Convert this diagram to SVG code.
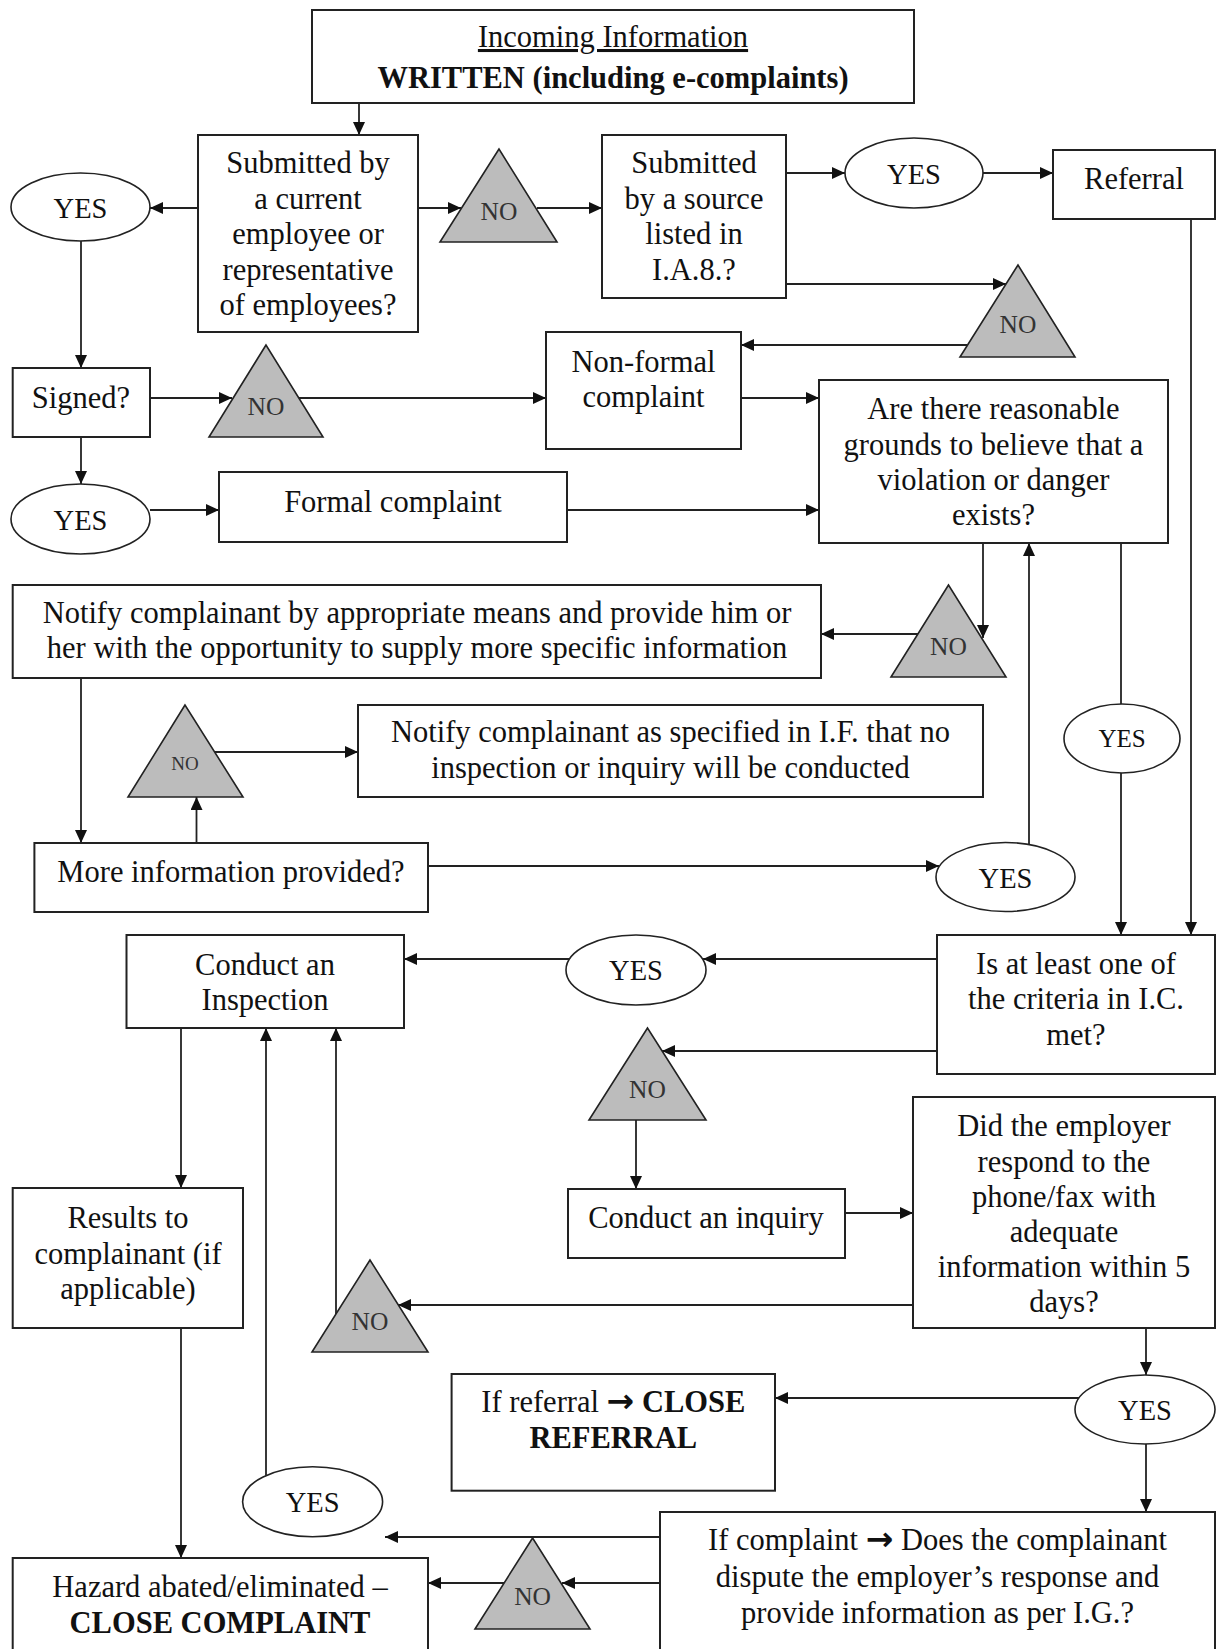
<svg xmlns="http://www.w3.org/2000/svg" width="1221" height="1649" viewBox="0 0 1221 1649">
<defs>
<marker id="ah" viewBox="0 0 13 12" refX="13" refY="6" markerWidth="13" markerHeight="12" markerUnits="userSpaceOnUse" orient="auto"><path d="M0,0 L13,6 L0,12 z" fill="#111"/></marker>
<style>
.box{fill:#fff;stroke:#222;stroke-width:2}
.ell{fill:#fff;stroke:#222;stroke-width:1.6}
.tri{fill:#bcbcbc;stroke:#222;stroke-width:1.6}
text{font-family:"Liberation Serif","Times New Roman",serif;fill:#111;text-anchor:middle;font-size:30.5px}
.yes{font-size:28.5px}
.no{font-size:25.5px;fill:#333}
.b{font-weight:bold}
.arr{font-family:"DejaVu Sans",sans-serif;font-weight:bold;font-size:33px}
#conn line,#conn path{stroke:#222;stroke-width:1.8;fill:none}
.a{marker-end:url(#ah)}
</style>
</defs>
<rect width="1221" height="1649" fill="#fff"/>

<g id="conn">
<line class="a" x1="359" y1="103" x2="359" y2="135"/>
<line class="a" x1="198" y1="208" x2="150" y2="208"/>
<line class="a" x1="418" y1="208" x2="461" y2="208"/>
<line class="a" x1="537" y1="208" x2="602" y2="208"/>
<line class="a" x1="786" y1="173" x2="845" y2="173"/>
<line class="a" x1="983" y1="173" x2="1053" y2="173"/>
<line class="a" x1="786" y1="284" x2="1006" y2="284"/>
<line class="a" x1="967" y1="345" x2="741" y2="345"/>
<line class="a" x1="1191" y1="219" x2="1191" y2="935"/>
<line class="a" x1="81" y1="241" x2="81" y2="368"/>
<line class="a" x1="150" y1="398" x2="232" y2="398"/>
<line class="a" x1="298" y1="398" x2="546" y2="398"/>
<line class="a" x1="741" y1="398" x2="819" y2="398"/>
<line class="a" x1="81" y1="437" x2="81" y2="484"/>
<line class="a" x1="150" y1="510" x2="219" y2="510"/>
<line class="a" x1="567" y1="510" x2="819" y2="510"/>
<line class="a" x1="983" y1="543" x2="983" y2="638"/>
<line class="a" x1="918" y1="634" x2="821" y2="634"/>
<line x1="1121" y1="543" x2="1121" y2="704"/>
<line class="a" x1="1121" y1="773" x2="1121" y2="935"/>
<line class="a" x1="81" y1="678" x2="81" y2="843"/>
<line class="a" x1="196.5" y1="843" x2="196.5" y2="797"/>
<line class="a" x1="215" y1="752" x2="358" y2="752"/>
<line class="a" x1="428" y1="866" x2="939" y2="866"/>
<line class="a" x1="1029" y1="845" x2="1029" y2="543"/>
<line class="a" x1="937" y1="959" x2="703" y2="959"/>
<line class="a" x1="570" y1="959" x2="404" y2="959"/>
<line class="a" x1="937" y1="1051" x2="662" y2="1051"/>
<line class="a" x1="636" y1="1120" x2="636" y2="1189"/>
<line class="a" x1="845" y1="1213" x2="913" y2="1213"/>
<line class="a" x1="913" y1="1305" x2="398" y2="1305"/>
<line class="a" x1="336" y1="1314" x2="336" y2="1028"/>
<line class="a" x1="266" y1="1476" x2="266" y2="1028"/>
<line class="a" x1="181" y1="1028" x2="181" y2="1188"/>
<line class="a" x1="181" y1="1328" x2="181" y2="1558"/>
<line class="a" x1="1146" y1="1328" x2="1146" y2="1375"/>
<line class="a" x1="1079" y1="1398" x2="775" y2="1398"/>
<line class="a" x1="1146" y1="1444" x2="1146" y2="1512"/>
<line class="a" x1="660" y1="1537" x2="385" y2="1537"/>
<line class="a" x1="660" y1="1583" x2="562" y2="1583"/>
<line class="a" x1="504" y1="1583" x2="428" y2="1583"/>
</g>

<g id="n-incoming"><rect class="box" x="312" y="10" width="602" height="93"/>
<text x="613" y="47" text-decoration="underline">Incoming Information</text>
<text x="613" y="88" class="b">WRITTEN (including e-complaints)</text></g>

<g id="n-employee"><rect class="box" x="198" y="135" width="220" height="197"/>
<text x="308" y="173">Submitted by</text><text x="308" y="208.5">a current</text><text x="308" y="244">employee or</text><text x="308" y="279.5">representative</text><text x="308" y="315">of employees?</text></g>

<g id="n-yes1"><ellipse class="ell" cx="80.5" cy="207" rx="69.5" ry="34"/><text class="yes" x="80.5" y="218">YES</text></g>

<g id="n-no1"><polygon class="tri" points="499,149 440,242 557,242"/><text class="no" x="499" y="220">NO</text></g>

<g id="n-source"><rect class="box" x="602" y="135" width="184" height="163"/>
<text x="694" y="173">Submitted</text><text x="694" y="208.5">by a source</text><text x="694" y="244">listed in</text><text x="694" y="279.5">I.A.8.?</text></g>

<g id="n-yes2"><ellipse class="ell" cx="914" cy="173" rx="69" ry="35"/><text class="yes" x="914" y="184">YES</text></g>

<g id="n-referral"><rect class="box" x="1053" y="150" width="162" height="69"/><text x="1134" y="189">Referral</text></g>

<g id="n-no2"><polygon class="tri" points="1018,265 960,357 1075,357"/><text class="no" x="1018" y="333">NO</text></g>

<g id="n-nonformal"><rect class="box" x="546" y="332" width="195" height="117"/>
<text x="643.5" y="372">Non-formal</text><text x="643.5" y="407">complaint</text></g>

<g id="n-signed"><rect class="box" x="12.7" y="368" width="137.3" height="69"/><text x="81" y="408">Signed?</text></g>

<g id="n-no3"><polygon class="tri" points="266,345 209,437 323,437"/><text class="no" x="266" y="415">NO</text></g>

<g id="n-grounds"><rect class="box" x="819" y="380" width="349" height="163"/>
<text x="993.5" y="419">Are there reasonable</text><text x="993.5" y="454.5">grounds to believe that a</text><text x="993.5" y="490">violation or danger</text><text x="993.5" y="525">exists?</text></g>

<g id="n-yes3"><ellipse class="ell" cx="80.5" cy="519" rx="69.5" ry="35"/><text class="yes" x="80.5" y="530">YES</text></g>

<g id="n-formal"><rect class="box" x="219" y="472" width="348" height="70"/><text x="393" y="512">Formal complaint</text></g>

<g id="n-no5"><polygon class="tri" points="948.5,585 891,677 1006,677"/><text class="no" x="948.5" y="655">NO</text></g>

<g id="n-notify1"><rect class="box" x="12.7" y="585" width="808.3" height="93"/>
<text x="417" y="623">Notify complainant by appropriate means and provide him or</text>
<text x="417" y="658">her with the opportunity to supply more specific information</text></g>

<g id="n-no4"><polygon class="tri" points="185,705 128,797 243,797"/><text class="no" x="185" y="770" style="font-size:19px">NO</text></g>

<g id="n-notify2"><rect class="box" x="358" y="705" width="625" height="92"/>
<text x="670.5" y="742">Notify complainant as specified in I.F. that no</text>
<text x="670.5" y="778">inspection or inquiry will be conducted</text></g>

<g id="n-yes5"><ellipse class="ell" cx="1122" cy="738.5" rx="58" ry="34.5"/><text class="yes" x="1122" y="747" style="font-size:25px">YES</text></g>

<g id="n-moreinfo"><rect class="box" x="34.4" y="843" width="393.6" height="69"/><text x="231" y="882">More information provided?</text></g>

<g id="n-yes4"><ellipse class="ell" cx="1005.5" cy="877" rx="69.5" ry="34.5"/><text class="yes" x="1005.5" y="888">YES</text></g>

<g id="n-inspection"><rect class="box" x="126.5" y="935" width="277.5" height="93"/>
<text x="265" y="975">Conduct an</text><text x="265" y="1010">Inspection</text></g>

<g id="n-yes6"><ellipse class="ell" cx="636" cy="970" rx="70" ry="35"/><text class="yes" x="636" y="980">YES</text></g>

<g id="n-criteria"><rect class="box" x="937" y="935" width="278" height="139"/>
<text x="1076" y="974">Is at least one of</text><text x="1076" y="1009">the criteria in I.C.</text><text x="1076" y="1045">met?</text></g>

<g id="n-no6"><polygon class="tri" points="647.5,1028 589,1120 706,1120"/><text class="no" x="647.5" y="1098">NO</text></g>

<g id="n-inquiry"><rect class="box" x="568" y="1189" width="277" height="69"/><text x="706" y="1228">Conduct an inquiry</text></g>

<g id="n-employer"><rect class="box" x="913" y="1097" width="302" height="231"/>
<text x="1064" y="1136">Did the employer</text><text x="1064" y="1171.5">respond to the</text><text x="1064" y="1206.5">phone/fax with</text><text x="1064" y="1242">adequate</text><text x="1064" y="1277">information within 5</text><text x="1064" y="1312">days?</text></g>

<g id="n-results"><rect class="box" x="12.7" y="1188" width="230.3" height="140"/>
<text x="128" y="1228">Results to</text><text x="128" y="1264">complainant (if</text><text x="128" y="1299">applicable)</text></g>

<g id="n-no7"><polygon class="tri" points="370,1260 312,1352 428,1352"/><text class="no" x="370" y="1330">NO</text></g>

<g id="n-yes8"><ellipse class="ell" cx="1145" cy="1409.5" rx="70" ry="34.5"/><text class="yes" x="1145" y="1420">YES</text></g>

<g id="n-closereferral"><rect class="box" x="451.6" y="1374" width="323.4" height="116.7"/>
<text x="613.3" y="1412">If referral <tspan class="arr">→</tspan><tspan class="b"> CLOSE</tspan></text>
<text x="613.3" y="1448" class="b">REFERRAL</text></g>

<g id="n-yes7"><ellipse class="ell" cx="312.6" cy="1501.7" rx="70" ry="35"/><text class="yes" x="312.6" y="1512">YES</text></g>

<g id="n-no8"><polygon class="tri" points="532.6,1538 475,1629 590,1629"/><text class="no" x="532.6" y="1605">NO</text></g>

<g id="n-hazard"><rect class="box" x="12.7" y="1558" width="415.3" height="100"/>
<text x="220" y="1597">Hazard abated/eliminated –</text>
<text x="220" y="1633" class="b">CLOSE COMPLAINT</text></g>

<g id="n-dispute"><rect class="box" x="660" y="1512" width="555" height="150"/>
<text x="937.5" y="1550">If complaint <tspan class="arr">→</tspan> Does the complainant</text>
<text x="937.5" y="1587">dispute the employer’s response and</text>
<text x="937.5" y="1623">provide information as per I.G.?</text></g>
</svg>
